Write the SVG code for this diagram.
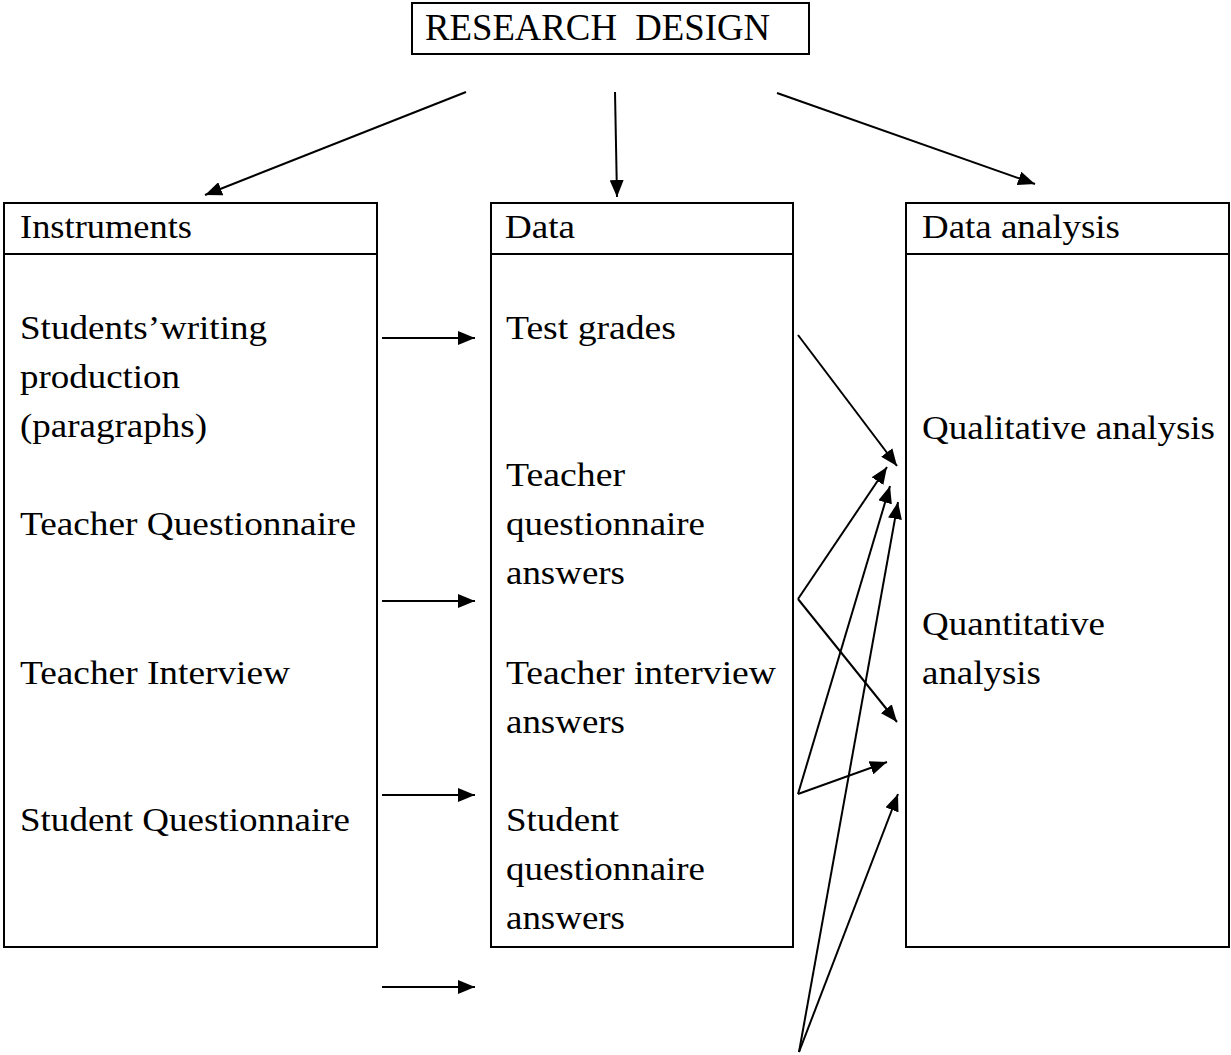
<svg xmlns="http://www.w3.org/2000/svg" width="1231" height="1055" viewBox="0 0 1231 1055">
<style>
.box{fill:none;stroke:#000;stroke-width:2}
.t{font-family:"Liberation Serif","Times New Roman",serif;font-size:33px;fill:#000}
.title{font-family:"Liberation Serif","Times New Roman",serif;font-size:37px;fill:#000}
.c{stroke:#000;stroke-width:2;fill:none;marker-end:url(#ah)}
</style>
<defs>
<marker id="ah" markerUnits="userSpaceOnUse" markerWidth="18" markerHeight="14" refX="17" refY="7" orient="auto">
<path d="M0,0 L17,7 L0,14 z" fill="#000"/>
</marker>
</defs>
<rect width="1231" height="1055" fill="#fff"/>
<g id="research-design">
<rect class="box" x="412" y="3" width="397" height="51"/>
<text class="title" x="425" y="40" xml:space="preserve" textLength="345" lengthAdjust="spacingAndGlyphs">RESEARCH  DESIGN</text>
</g>
<g id="instruments">
<rect class="box" x="4" y="203" width="373" height="744"/>
<line class="box" x1="4" y1="254" x2="377" y2="254"/>
<text class="t" x="20" y="238" textLength="172" lengthAdjust="spacingAndGlyphs">Instruments</text>
<text class="t" x="20" y="339" textLength="247" lengthAdjust="spacingAndGlyphs">Students’writing</text>
<text class="t" x="20" y="388" textLength="160" lengthAdjust="spacingAndGlyphs">production</text>
<text class="t" x="20" y="437" textLength="187" lengthAdjust="spacingAndGlyphs">(paragraphs)</text>
<text class="t" x="20" y="535" textLength="336" lengthAdjust="spacingAndGlyphs">Teacher Questionnaire</text>
<text class="t" x="20" y="684" textLength="270" lengthAdjust="spacingAndGlyphs">Teacher Interview</text>
<text class="t" x="20" y="831" textLength="330" lengthAdjust="spacingAndGlyphs">Student Questionnaire</text>
</g>
<g id="data">
<rect class="box" x="491" y="203" width="302" height="744"/>
<line class="box" x1="491" y1="254" x2="793" y2="254"/>
<text class="t" x="505" y="238" textLength="70" lengthAdjust="spacingAndGlyphs">Data</text>
<text class="t" x="506" y="339" textLength="170" lengthAdjust="spacingAndGlyphs">Test grades</text>
<text class="t" x="506" y="486" textLength="119" lengthAdjust="spacingAndGlyphs">Teacher</text>
<text class="t" x="506" y="535" textLength="199" lengthAdjust="spacingAndGlyphs">questionnaire</text>
<text class="t" x="506" y="584" textLength="119" lengthAdjust="spacingAndGlyphs">answers</text>
<text class="t" x="506" y="684" textLength="270" lengthAdjust="spacingAndGlyphs">Teacher interview</text>
<text class="t" x="506" y="733" textLength="119" lengthAdjust="spacingAndGlyphs">answers</text>
<text class="t" x="506" y="831" textLength="113" lengthAdjust="spacingAndGlyphs">Student</text>
<text class="t" x="506" y="880" textLength="199" lengthAdjust="spacingAndGlyphs">questionnaire</text>
<text class="t" x="506" y="929" textLength="119" lengthAdjust="spacingAndGlyphs">answers</text>
</g>
<g id="data-analysis">
<rect class="box" x="906" y="203" width="323" height="744"/>
<line class="box" x1="906" y1="254" x2="1229" y2="254"/>
<text class="t" x="922" y="238" textLength="198" lengthAdjust="spacingAndGlyphs">Data analysis</text>
<text class="t" x="922" y="439" textLength="293" lengthAdjust="spacingAndGlyphs">Qualitative analysis</text>
<text class="t" x="922" y="635" textLength="183" lengthAdjust="spacingAndGlyphs">Quantitative</text>
<text class="t" x="922" y="684" textLength="119" lengthAdjust="spacingAndGlyphs">analysis</text>
</g>
<g id="connectors">
<line class="c" x1="466" y1="92" x2="205" y2="195"/>
<line class="c" x1="615" y1="92" x2="617" y2="197"/>
<line class="c" x1="777" y1="93" x2="1035" y2="184"/>
<line class="c" x1="382" y1="338" x2="475" y2="338"/>
<line class="c" x1="382" y1="601" x2="475" y2="601"/>
<line class="c" x1="382" y1="795" x2="475" y2="795"/>
<line class="c" x1="382" y1="987" x2="475" y2="987"/>
<line class="c" x1="798" y1="335" x2="897" y2="466"/>
<line class="c" x1="798" y1="599" x2="887" y2="467"/>
<line class="c" x1="798" y1="599" x2="897" y2="722"/>
<line class="c" x1="798" y1="794" x2="890" y2="486"/>
<line class="c" x1="798" y1="794" x2="887" y2="762"/>
<line class="c" x1="799" y1="1052" x2="898" y2="502"/>
<line class="c" x1="799" y1="1052" x2="898" y2="794"/>
</g>
</svg>
